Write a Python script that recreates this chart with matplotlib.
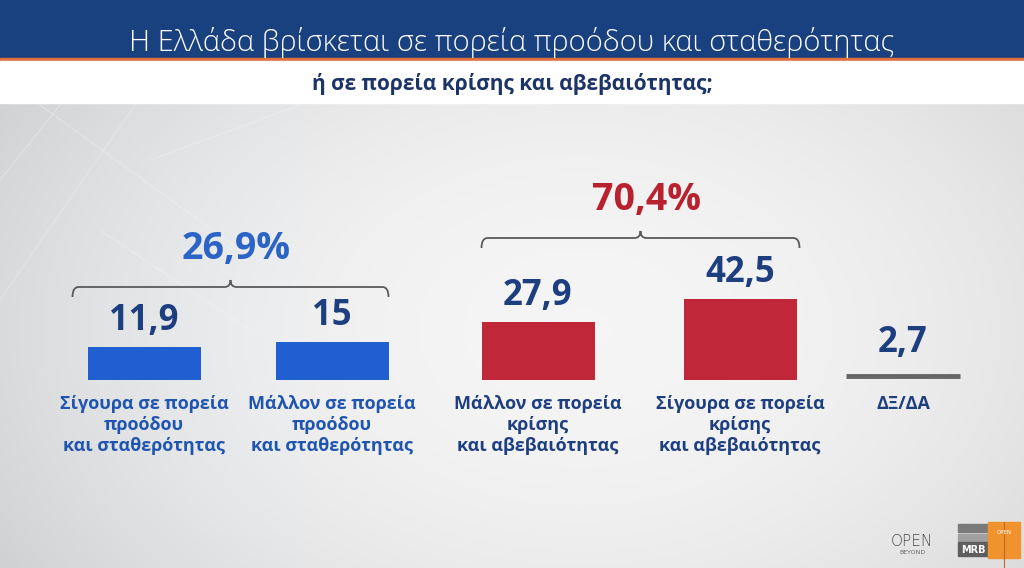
import numpy as np
import matplotlib
matplotlib.use("Agg")
from matplotlib import pyplot as plt
from matplotlib.path import Path
from matplotlib.patches import PathPatch, Rectangle

plt.rcParams['font.family'] = ['Open Sans', 'Noto Sans', 'DejaVu Sans']

# data
title = "Η Ελλάδα βρίσκεται σε πορεία προόδου και σταθερότητας"
subtitle = "ή σε πορεία κρίσης και αβεβαιότητας;"
categories = ["Σίγουρα σε πορεία\nπροόδου\nκαι σταθερότητας",
              "Μάλλον σε πορεία\nπροόδου\nκαι σταθερότητας",
              "Μάλλον σε πορεία\nκρίσης\nκαι αβεβαιότητας",
              "Σίγουρα σε πορεία\nκρίσης\nκαι αβεβαιότητας"]
values = [11.9, 15, 27.9, 42.5]
dk_label = "ΔΞ/ΔΑ"
dk_value = 2.7

def gr(v):
    return f"{v:.1f}".replace(".", ",").replace(",0", "")

# layout (pixels)
W, H = 1024, 568
bar_x = [144, 332, 538, 740]
bar_w = 113
dk_x = 903
zero_px, px_per_unit = 365.7, 1.57   # TV graphic: bars are not zero based
base = (zero_px - 380) / px_per_unit

blue = "#1f5fcf"
red = "#c0283a"
navy = "#1d3f80"
blue_txt = "#1f55b0"

fig = plt.figure(figsize=(W / 100, H / 100), dpi=100)

# background
bg = fig.add_axes([0, 0, 1, 1])
bg.set_xlim(0, W)
bg.set_ylim(H, 0)
bg.axis("off")
yy, xx = np.mgrid[0:H, 0:W]
d = np.sqrt(((xx - 580) / 620.0) ** 2 + ((yy - 330) / 430.0) ** 2)
lum = np.clip(0.965 - 0.12 * d ** 2, 0.8, 1)
img = np.dstack([lum - 0.012 * (xx < 300), lum - 0.004, lum])
bg.imshow(np.clip(img, 0, 1), extent=(0, W, H, 0), aspect="auto", zorder=0)
for (x0, y0, x1, y1) in [(0, 300, 135, 105), (40, 105, 240, 250), (150, 160, 300, 105),
                         (0, 180, 60, 105), (100, 230, 250, 330)]:
    bg.plot([x0, x1], [y0, y1], color="white", lw=0.8, alpha=0.25, zorder=1)

bg.add_patch(Rectangle((0, 0), W, 58, color="#19407f", zorder=2))
bg.add_patch(Rectangle((0, 58), W, 3, color="#e0703c", zorder=2))
bg.add_patch(Rectangle((0, 61), W, 42, color="white", zorder=2))
bg.text(W / 2, 42, title, color="white", fontsize=21, fontweight="light",
        ha="center", va="center", zorder=3)
bg.text(W / 2, 84, subtitle, color="#1c3467", fontsize=15, fontweight="bold",
        ha="center", va="center", zorder=3)

# bars
ax = fig.add_axes([0, 0, 1, 1])
ax.patch.set_alpha(0)
ax.set_xlim(0, W)
ax.set_ylim((zero_px - H) / px_per_unit, zero_px / px_per_unit)
ax.axis("off")

colors = [blue, blue, red, red]
heights = np.array(values) - base
ax.bar(bar_x, heights, bottom=base, width=bar_w, color=colors, zorder=3)
for x, v, c in zip(bar_x, values, categories):
    ax.annotate(gr(v), (x, v), xytext=(0, 6), textcoords="offset points",
                ha="center", va="bottom", fontsize=25, fontweight="bold", color=navy)
    ax.annotate(c, (x, base), xytext=(0, -11), textcoords="offset points",
                ha="center", va="top", fontsize=13, fontweight="bold",
                color=blue_txt if x < 420 else navy, linespacing=1.2)

ax.hlines(base + 2.5, dk_x - 57, dk_x + 57, color="#666666", lw=3.5, zorder=3)
ax.annotate(gr(dk_value), (dk_x, base), xytext=(0, 14), textcoords="offset points",
            ha="center", va="bottom", fontsize=25, fontweight="bold", color=navy)
ax.annotate(dk_label, (dk_x, base), xytext=(0, -11), textcoords="offset points",
            ha="center", va="top", fontsize=13, fontweight="bold", color=navy)

# braces with group totals
ov = fig.add_axes([0, 0, 1, 1])
ov.patch.set_alpha(0)
ov.set_xlim(0, W)
ov.set_ylim(H, 0)
ov.axis("off")

def brace(x0, x1, y, h=10, tip=7, r=6):
    mid = (x0 + x1) / 2
    verts = [(x0, y + h), (x0, y), (x0 + r, y), (mid - r, y), (mid, y), (mid, y - tip),
             (mid, y), (mid + r, y), (x1 - r, y), (x1, y), (x1, y + h)]
    codes = [Path.MOVETO, Path.CURVE3, Path.CURVE3, Path.LINETO, Path.CURVE3, Path.CURVE3,
             Path.CURVE3, Path.CURVE3, Path.LINETO, Path.CURVE3, Path.CURVE3]
    ov.add_patch(PathPatch(Path(verts, codes), fill=False, ec="#5a5a5a", lw=1.3))
    return mid

m1 = brace(bar_x[0] - bar_w / 2 - 15, bar_x[1] + bar_w / 2, 287)
ov.text(m1 + 6, 259, gr(values[0] + values[1]) + "%", color="#2b63c6", fontsize=27,
        fontweight="bold", ha="center", va="baseline")
m2 = brace(bar_x[2] - bar_w / 2, bar_x[3] + bar_w / 2 + 3, 238)
ov.text(m2 + 6, 210, gr(values[2] + values[3]) + "%", color="#b8222e", fontsize=27,
        fontweight="bold", ha="center", va="baseline")

# logos
ov.text(912, 542, "OPEN", color="#4a4a4a", fontsize=11, fontweight="light",
        ha="center", va="center", family="DejaVu Sans")
ov.text(912, 553, "BEYOND", color="#666666", fontsize=4.5, ha="center", va="center",
        family="DejaVu Sans")
ov.add_patch(Rectangle((958, 524), 30, 8, color="#7a7a7a"))
ov.add_patch(Rectangle((958, 534), 30, 7, color="#a0a0a0"))
ov.add_patch(Rectangle((958, 542), 30, 14, color="#5e5e5e"))
ov.text(973, 550, "MRB", color="white", fontsize=7, fontweight="bold",
        ha="center", va="center", family="DejaVu Sans")
ov.add_patch(Rectangle((988, 522), 32, 36, color="#f0922e"))
ov.plot([1004, 1004], [522, 568], color="#c06a1e", lw=0.8)
ov.text(1004, 532, "OPEN", color="white", fontsize=4, ha="center", va="center",
        family="DejaVu Sans")

fig.savefig("out.png", dpi=100)
